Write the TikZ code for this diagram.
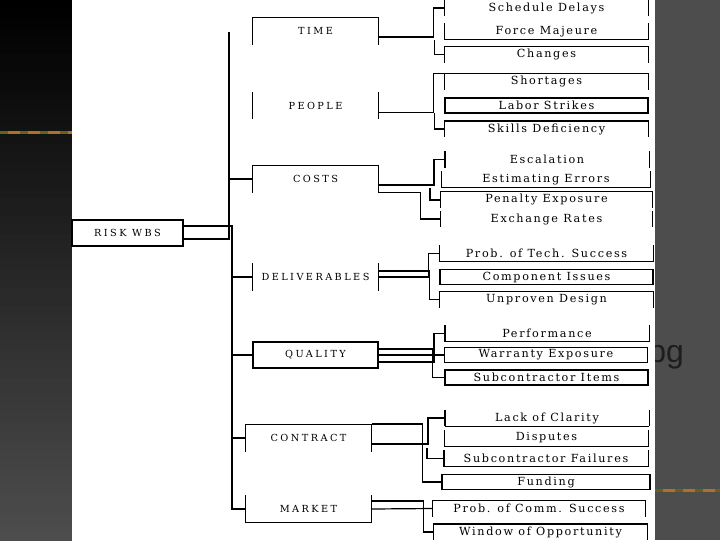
\documentclass[tikz,border=0pt]{standalone}
\usepackage{fontspec}
\setmainfont{DejaVu Serif}
\newfontfamily\wbsfont[LetterSpace=15]{DejaVu Serif}
\newfontfamily\headfont[LetterSpace=25]{DejaVu Serif}
\newfontfamily\slidefont{Liberation Sans}
\definecolor{slidegray}{RGB}{77,77,77}
\definecolor{stripe}{RGB}{176,112,40}
\definecolor{stripedark}{RGB}{105,95,35}
\definecolor{pgtext}{RGB}{30,30,30}

\tikzset{every picture/.style={line width=0.9pt}}
\tikzset{
  wbsbox/.style={inner sep=0pt, minimum width=93.75pt, minimum height=19.5pt, font=\headfont\fontsize{7.3}{8}\selectfont},
  itembox/.style={inner sep=0pt, minimum width=152.25pt, minimum height=11.25pt, font=\wbsfont\fontsize{8.4}{9}\selectfont},
  fullbox/.style={draw},
  sidebox/.style={append after command={(\tikzlastnode.north west) edge (\tikzlastnode.south west) (\tikzlastnode.north east) edge (\tikzlastnode.south east)}},
  topbox/.style={sidebox, append after command={(\tikzlastnode.north west) edge (\tikzlastnode.north east)}},
  botbox/.style={sidebox, append after command={(\tikzlastnode.south west) edge (\tikzlastnode.south east)}},
}

\begin{document}
\begin{tikzpicture}[x=0.75pt,y=0.75pt,yscale=-1,xscale=1]
	\useasboundingbox (0,0) rectangle (720,540);

	%Slide background
	\fill[slidegray] (0,0) rectangle (720,540);
	\foreach \k in {0,...,59}{
		\pgfmathtruncatemacro\pct{100*\k/59}
		\fill[slidegray!\pct!black] (0,9*\k) rectangle (72,9*\k+9.5);
	}
	\fill[stripe] (0,130.5) rectangle (72,133.5);
	\draw[stripedark, line width=2.25pt, dash pattern=on 6pt off 9pt] (0,132) -- (72,132);
	\fill[stripe] (655,488.5) rectangle (720,491.5);
	\draw[stripedark, line width=2.25pt, dash pattern=on 6pt off 9pt] (655,490) -- (720,490);
	\node[anchor=base east, font=\slidefont\fontsize{24}{28}\selectfont, text=pgtext] (pgtag) at (689,362) {pg};
	%White sheet
	\fill[white] (72,0) rectangle (655,540);

	%Level 0
	\node[wbsbox, fullbox, minimum width=83.25pt] (risk) at (127.5,233) {RISK WBS};
	%Level 1
	\node[wbsbox, topbox] (time) at (315.5,31) {TIME};
	\node[wbsbox, sidebox] (people) at (315.5,105.5) {PEOPLE};
	\node[wbsbox, topbox] (costs) at (315.5,179) {COSTS};
	\node[wbsbox, sidebox] (deliv) at (315.5,277) {DELIVERABLES};
	\node[wbsbox, fullbox] (quality) at (315.5,355) {QUALITY};
	\node[wbsbox, topbox] (contract) at (308.5,438) {CONTRACT};
	\node[wbsbox, botbox] (market) at (308.5,509) {MARKET};

	%Level 2
	\node[itembox, sidebox] (sched) at (546.5,8) {Schedule Delays};
	\node[itembox, botbox] (force) at (546.5,31.5) {Force Majeure};
	\node[itembox, topbox] (changes) at (546.5,54.5) {Changes};
	\node[itembox, topbox] (short) at (546.5,81.5) {Shortages};
	\node[itembox, fullbox] (labor) at (546.5,105.5) {Labor Strikes};
	\node[itembox, topbox] (skills) at (546.5,129) {Skills Deficiency};
	\node[itembox, sidebox] (escal) at (547,159.5) {Escalation};
	\node[itembox, botbox, minimum width=156pt] (estim) at (546,179.5) {Estimating Errors};
	\node[itembox, topbox, minimum width=158.25pt] (penalty) at (546.5,199.5) {Penalty Exposure};
	\node[itembox, sidebox, minimum width=158.25pt] (exch) at (546.5,219) {Exchange Rates};
	\node[itembox, botbox, minimum width=159.75pt] (ptech) at (546.5,253.5) {Prob. of Tech. Success};
	\node[itembox, fullbox, minimum width=159.75pt] (comp) at (546.5,277) {Component Issues};
	\node[itembox, topbox, minimum width=159.75pt] (unprov) at (546.5,299.5) {Unproven Design};
	\node[itembox, botbox] (perf) at (547,333.5) {Performance};
	\node[itembox, fullbox] (warr) at (546,355) {Warranty Exposure};
	\node[itembox, fullbox] (subit) at (546.5,377.5) {Subcontractor Items};
	\node[itembox, botbox] (lack) at (547,418) {Lack of Clarity};
	\node[itembox, botbox] (disp) at (546.5,438) {Disputes};
	\node[itembox, botbox] (subfail) at (546,458.5) {Subcontractor Failures};
	\node[itembox, fullbox, minimum width=156pt] (fund) at (546,482) {Funding};
	\node[itembox, topbox, minimum width=159pt] (pcomm) at (539,508.5) {Prob. of Comm. Success};
	\node[itembox, topbox, minimum width=159.75pt] (window) at (540.5,532) {Window of Opportunity};

	%Trunks
	\coordinate (trunktop) at (229,32);
	\coordinate (trunkbot) at (232,509);
	\draw[line width=1.5pt] ([yshift=4.5pt]risk.east) -| (trunktop);
	\draw (costs.west) -- (costs.west -| trunktop);
	\draw ([yshift=-5.25pt]risk.east) -| (trunkbot) -- (market.west);
	\draw (deliv.west) -- (deliv.west -| trunkbot);
	\draw (quality.west) -- (quality.west -| trunkbot);
	\draw (contract.west) -- (contract.west -| trunkbot);

	%Branches
	\draw ([yshift=4.5pt]time.east) -| ([xshift=-8.25pt]sched.west) -- (sched.west);
	\draw (changes.west) -| ++(-10,-15);
	\draw ([yshift=5.25pt]people.east) -| ([xshift=-8.25pt]short.north west) -- (short.north west);
	\draw (skills.west) -| ++(-10,-16);
	\draw ([yshift=4.5pt]costs.east) -| ([xshift=-8.25pt]escal.west) -- (escal.west);
	\draw[line width=1.5pt] (penalty.west) -| ++(-10,-12);
	\draw (costs.south east) -| ([xshift=-15pt]exch.west) -- (exch.west);
	\draw (deliv.east) -| ([xshift=-8.25pt]ptech.west) -- (ptech.west);
	\draw ([yshift=-4.5pt]deliv.east) -| ([xshift=-7.5pt]unprov.west) -- (unprov.west);
	\draw ([yshift=5.25pt]quality.east) -| ([xshift=-8.25pt]perf.west) -- (perf.west);
	\draw (quality.east) -- (warr.west);
	\draw ([yshift=-4.5pt]quality.east) -| ([xshift=-9pt]subit.west) -- (subit.west);
	\draw ([yshift=4.5pt]contract.east) -| ([xshift=-12.75pt]lack.west) -- (lack.west);
	\draw (subfail.west) -| ++(-17,-11);
	\draw ([yshift=-10.5pt]contract.east) -| ([xshift=-14.25pt]fund.west) -- (fund.west);
	\draw (market.east) -- (pcomm.west);
	\draw ([yshift=-6pt]market.east) -| ([xshift=-7.5pt]window.west) -- (window.west);
\end{tikzpicture}
\end{document}
